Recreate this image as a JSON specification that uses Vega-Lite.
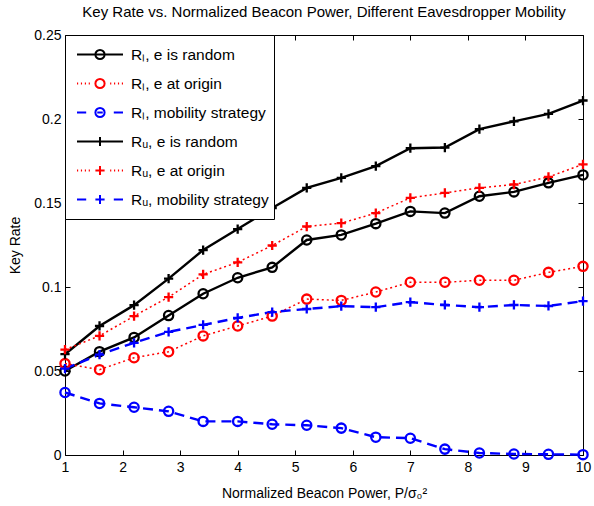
{
  "$schema": "https://vega.github.io/schema/vega-lite/v6.json",
  "width": 518,
  "height": 420,
  "autosize": {"type": "none"},
  "padding": {"left": 65, "top": 35, "right": 11, "bottom": 51},
  "background": "white",
  "title": {"text": "Key Rate vs. Normalized Beacon Power, Different Eavesdropper Mobility", "fontSize": 15, "font": "Liberation Sans", "fontWeight": "normal", "offset": 8, "anchor": "middle", "color": "black"},
  "config": {
    "view": {"stroke": "black", "strokeWidth": 1},
    "axis": {"domain": false, "grid": false, "tickColor": "black", "tickSize": -5, "tickWidth": 1, "labelFont": "Liberation Sans", "labelFontSize": 14, "labelColor": "black", "titleFont": "Liberation Sans", "titleFontSize": 14, "titleFontWeight": "normal", "titleColor": "black", "labelFlush": false, "labelOverlap": false}
  },
  "data": {"values": [
    {"s": "Rₗ, e is random", "x": 1, "y": 0.050}, {"s": "Rₗ, e is random", "x": 1.6, "y": 0.0615}, {"s": "Rₗ, e is random", "x": 2.2, "y": 0.070}, {"s": "Rₗ, e is random", "x": 2.8, "y": 0.083}, {"s": "Rₗ, e is random", "x": 3.4, "y": 0.096}, {"s": "Rₗ, e is random", "x": 4, "y": 0.1055}, {"s": "Rₗ, e is random", "x": 4.6, "y": 0.1117}, {"s": "Rₗ, e is random", "x": 5.2, "y": 0.128}, {"s": "Rₗ, e is random", "x": 5.8, "y": 0.131}, {"s": "Rₗ, e is random", "x": 6.4, "y": 0.1377}, {"s": "Rₗ, e is random", "x": 7, "y": 0.145}, {"s": "Rₗ, e is random", "x": 7.6, "y": 0.144}, {"s": "Rₗ, e is random", "x": 8.2, "y": 0.154}, {"s": "Rₗ, e is random", "x": 8.8, "y": 0.1566}, {"s": "Rₗ, e is random", "x": 9.4, "y": 0.162}, {"s": "Rₗ, e is random", "x": 10, "y": 0.1667},
    {"s": "Rₗ, e at origin", "x": 1, "y": 0.0544}, {"s": "Rₗ, e at origin", "x": 1.6, "y": 0.0508}, {"s": "Rₗ, e at origin", "x": 2.2, "y": 0.0579}, {"s": "Rₗ, e at origin", "x": 2.8, "y": 0.0615}, {"s": "Rₗ, e at origin", "x": 3.4, "y": 0.0709}, {"s": "Rₗ, e at origin", "x": 4, "y": 0.0768}, {"s": "Rₗ, e at origin", "x": 4.6, "y": 0.0827}, {"s": "Rₗ, e at origin", "x": 5.2, "y": 0.0928}, {"s": "Rₗ, e at origin", "x": 5.8, "y": 0.092}, {"s": "Rₗ, e at origin", "x": 6.4, "y": 0.097}, {"s": "Rₗ, e at origin", "x": 7, "y": 0.1028}, {"s": "Rₗ, e at origin", "x": 7.6, "y": 0.1028}, {"s": "Rₗ, e at origin", "x": 8.2, "y": 0.104}, {"s": "Rₗ, e at origin", "x": 8.8, "y": 0.104}, {"s": "Rₗ, e at origin", "x": 9.4, "y": 0.1087}, {"s": "Rₗ, e at origin", "x": 10, "y": 0.1123},
    {"s": "Rₗ, mobility strategy", "x": 1, "y": 0.0372}, {"s": "Rₗ, mobility strategy", "x": 1.6, "y": 0.0307}, {"s": "Rₗ, mobility strategy", "x": 2.2, "y": 0.0284}, {"s": "Rₗ, mobility strategy", "x": 2.8, "y": 0.026}, {"s": "Rₗ, mobility strategy", "x": 3.4, "y": 0.020}, {"s": "Rₗ, mobility strategy", "x": 4, "y": 0.020}, {"s": "Rₗ, mobility strategy", "x": 4.6, "y": 0.0183}, {"s": "Rₗ, mobility strategy", "x": 5.2, "y": 0.0177}, {"s": "Rₗ, mobility strategy", "x": 5.8, "y": 0.016}, {"s": "Rₗ, mobility strategy", "x": 6.4, "y": 0.0106}, {"s": "Rₗ, mobility strategy", "x": 7, "y": 0.010}, {"s": "Rₗ, mobility strategy", "x": 7.6, "y": 0.0035}, {"s": "Rₗ, mobility strategy", "x": 8.2, "y": 0.0012}, {"s": "Rₗ, mobility strategy", "x": 8.8, "y": 0.0006}, {"s": "Rₗ, mobility strategy", "x": 9.4, "y": 0.0004}, {"s": "Rₗ, mobility strategy", "x": 10, "y": 0.0002},
    {"s": "Rᵤ, e is random", "x": 1, "y": 0.060}, {"s": "Rᵤ, e is random", "x": 1.6, "y": 0.0768}, {"s": "Rᵤ, e is random", "x": 2.2, "y": 0.0892}, {"s": "Rᵤ, e is random", "x": 2.8, "y": 0.105}, {"s": "Rᵤ, e is random", "x": 3.4, "y": 0.122}, {"s": "Rᵤ, e is random", "x": 4, "y": 0.1345}, {"s": "Rᵤ, e is random", "x": 4.6, "y": 0.147}, {"s": "Rᵤ, e is random", "x": 5.2, "y": 0.159}, {"s": "Rᵤ, e is random", "x": 5.8, "y": 0.165}, {"s": "Rᵤ, e is random", "x": 6.4, "y": 0.172}, {"s": "Rᵤ, e is random", "x": 7, "y": 0.1826}, {"s": "Rᵤ, e is random", "x": 7.6, "y": 0.183}, {"s": "Rᵤ, e is random", "x": 8.2, "y": 0.194}, {"s": "Rᵤ, e is random", "x": 8.8, "y": 0.1986}, {"s": "Rᵤ, e is random", "x": 9.4, "y": 0.203}, {"s": "Rᵤ, e is random", "x": 10, "y": 0.211},
    {"s": "Rᵤ, e at origin", "x": 1, "y": 0.0627}, {"s": "Rᵤ, e at origin", "x": 1.6, "y": 0.0709}, {"s": "Rᵤ, e at origin", "x": 2.2, "y": 0.0827}, {"s": "Rᵤ, e at origin", "x": 2.8, "y": 0.094}, {"s": "Rᵤ, e at origin", "x": 3.4, "y": 0.1075}, {"s": "Rᵤ, e at origin", "x": 4, "y": 0.1147}, {"s": "Rᵤ, e at origin", "x": 4.6, "y": 0.1247}, {"s": "Rᵤ, e at origin", "x": 5.2, "y": 0.136}, {"s": "Rᵤ, e at origin", "x": 5.8, "y": 0.138}, {"s": "Rᵤ, e at origin", "x": 6.4, "y": 0.144}, {"s": "Rᵤ, e at origin", "x": 7, "y": 0.153}, {"s": "Rᵤ, e at origin", "x": 7.6, "y": 0.156}, {"s": "Rᵤ, e at origin", "x": 8.2, "y": 0.159}, {"s": "Rᵤ, e at origin", "x": 8.8, "y": 0.161}, {"s": "Rᵤ, e at origin", "x": 9.4, "y": 0.1655}, {"s": "Rᵤ, e at origin", "x": 10, "y": 0.173},
    {"s": "Rᵤ, mobility strategy", "x": 1, "y": 0.0514}, {"s": "Rᵤ, mobility strategy", "x": 1.6, "y": 0.0597}, {"s": "Rᵤ, mobility strategy", "x": 2.2, "y": 0.0668}, {"s": "Rᵤ, mobility strategy", "x": 2.8, "y": 0.0733}, {"s": "Rᵤ, mobility strategy", "x": 3.4, "y": 0.0774}, {"s": "Rᵤ, mobility strategy", "x": 4, "y": 0.0816}, {"s": "Rᵤ, mobility strategy", "x": 4.6, "y": 0.0851}, {"s": "Rᵤ, mobility strategy", "x": 5.2, "y": 0.0869}, {"s": "Rᵤ, mobility strategy", "x": 5.8, "y": 0.0886}, {"s": "Rᵤ, mobility strategy", "x": 6.4, "y": 0.088}, {"s": "Rᵤ, mobility strategy", "x": 7, "y": 0.091}, {"s": "Rᵤ, mobility strategy", "x": 7.6, "y": 0.0893}, {"s": "Rᵤ, mobility strategy", "x": 8.2, "y": 0.088}, {"s": "Rᵤ, mobility strategy", "x": 8.8, "y": 0.0893}, {"s": "Rᵤ, mobility strategy", "x": 9.4, "y": 0.0887}, {"s": "Rᵤ, mobility strategy", "x": 10, "y": 0.0916}
  ]},
  "encoding": {
    "color": {"field": "s", "type": "nominal", "sort": null,
      "scale": {"domain": ["Rₗ, e is random", "Rₗ, e at origin", "Rₗ, mobility strategy", "Rᵤ, e is random", "Rᵤ, e at origin", "Rᵤ, mobility strategy"], "range": ["#000000", "#ff0000", "#0000ff", "#000000", "#ff0000", "#0000ff"]},
      "legend": {"orient": "top-left", "offset": 0, "padding": 5, "title": null, "strokeColor": "black", "fillColor": "white", "clipHeight": 29, "rowPadding": 0, "symbolSize": 2116, "symbolStrokeWidth": 2, "symbolOffset": 6, "labelOffset": 7, "labelFont": "Liberation Sans", "labelFontSize": 15.5, "labelColor": "black", "labelLimit": 300, "symbolFillColor": "transparent",
        "symbolType": {"expr": "['M-1,0L1,0M0.2,0C0.2,0.11,0.11,0.2,0,0.2C-0.11,0.2,-0.2,0.11,-0.2,0C-0.2,-0.11,-0.11,-0.2,0,-0.2C0.11,-0.2,0.2,-0.11,0.2,0Z', 'M-1,0L-0.95,0M-0.83,0L-0.78,0M-0.66,0L-0.61,0M-0.49,0L-0.44,0M0.44,0L0.49,0M0.61,0L0.66,0M0.78,0L0.83,0M0.95,0L1,0M0.2,0C0.2,0.11,0.11,0.2,0,0.2C-0.11,0.2,-0.2,0.11,-0.2,0C-0.2,-0.11,-0.11,-0.2,0,-0.2C0.11,-0.2,0.2,-0.11,0.2,0Z', 'M-1,0L-0.6,0M0.6,0L1,0M-0.12,0L0.12,0M0.2,0C0.2,0.11,0.11,0.2,0,0.2C-0.11,0.2,-0.2,0.11,-0.2,0C-0.2,-0.11,-0.11,-0.2,0,-0.2C0.11,-0.2,0.2,-0.11,0.2,0Z', 'M-1,0L1,0M0,-0.2L0,0.2', 'M-1,0L-0.95,0M-0.83,0L-0.78,0M-0.66,0L-0.61,0M-0.49,0L-0.44,0M0.44,0L0.49,0M0.61,0L0.66,0M0.78,0L0.83,0M0.95,0L1,0M-0.2,0L0.2,0M0,-0.2L0,0.2', 'M-1,0L-0.6,0M0.6,0L1,0M-0.2,0L0.2,0M0,-0.2L0,0.2'][datum.index]"}
      }
    }
  },
  "layer": [
    {
      "transform": [{"filter": {"field": "s", "oneOf": ["Rₗ, e is random", "Rᵤ, e is random"]}}],
      "mark": {"type": "line", "strokeCap": "butt", "strokeJoin": "miter", "strokeWidth": 2.4},
      "encoding": {
        "x": {"field": "x", "type": "quantitative", "scale": {"domain": [1, 10], "nice": false}, "axis": {"orient": "bottom", "values": [1,2,3,4,5,6,7,8,9,10], "format": "d", "labelPadding": 10, "title": "Normalized Beacon Power, P/σ₀²", "titlePadding": 12}},
        "y": {"field": "y", "type": "quantitative", "scale": {"domain": [0, 0.25], "nice": false}, "axis": {"orient": "left", "values": [0, 0.05, 0.1, 0.15, 0.2, 0.25], "format": "~g", "labelPadding": 9, "title": "Key Rate", "titlePadding": 11}}
      }
    },
    {
      "transform": [{"filter": {"field": "s", "oneOf": ["Rₗ, e at origin", "Rᵤ, e at origin"]}}],
      "mark": {"type": "line", "strokeCap": "butt", "strokeWidth": 1.5, "strokeDash": [2, 3]},
      "encoding": {
        "x": {"field": "x", "type": "quantitative", "scale": {"domain": [1, 10], "nice": false}, "axis": null},
        "y": {"field": "y", "type": "quantitative", "scale": {"domain": [0, 0.25], "nice": false}, "axis": null}
      }
    },
    {
      "transform": [{"filter": {"field": "s", "oneOf": ["Rₗ, mobility strategy", "Rᵤ, mobility strategy"]}}],
      "mark": {"type": "line", "strokeCap": "butt", "strokeWidth": 2.4, "strokeDash": [10, 6]},
      "encoding": {
        "x": {"field": "x", "type": "quantitative", "scale": {"domain": [1, 10], "nice": false}, "axis": null},
        "y": {"field": "y", "type": "quantitative", "scale": {"domain": [0, 0.25], "nice": false}, "axis": null}
      }
    },
    {
      "transform": [{"filter": {"field": "s", "oneOf": ["Rₗ, e is random", "Rₗ, e at origin", "Rₗ, mobility strategy"]}}],
      "mark": {"type": "point", "shape": "circle", "filled": false, "size": 85, "strokeWidth": 2.3, "opacity": 1},
      "encoding": {
        "x": {"field": "x", "type": "quantitative", "scale": {"domain": [1, 10], "nice": false}, "axis": {"orient": "top", "values": [1,2,3,4,5,6,7,8,9,10], "labels": false, "title": null}},
        "y": {"field": "y", "type": "quantitative", "scale": {"domain": [0, 0.25], "nice": false}, "axis": {"orient": "right", "values": [0, 0.05, 0.1, 0.15, 0.2, 0.25], "labels": false, "title": null}}
      }
    },
    {
      "transform": [{"filter": {"field": "s", "oneOf": ["Rᵤ, e is random", "Rᵤ, e at origin", "Rᵤ, mobility strategy"]}}],
      "mark": {"type": "point", "shape": "M-1,0L1,0M0,-1L0,1", "filled": false, "size": 85, "strokeWidth": 2.3, "opacity": 1},
      "encoding": {
        "x": {"field": "x", "type": "quantitative", "scale": {"domain": [1, 10], "nice": false}, "axis": null},
        "y": {"field": "y", "type": "quantitative", "scale": {"domain": [0, 0.25], "nice": false}, "axis": null}
      }
    }
  ],
  "resolve": {"axis": {"x": "independent", "y": "independent"}}
}
